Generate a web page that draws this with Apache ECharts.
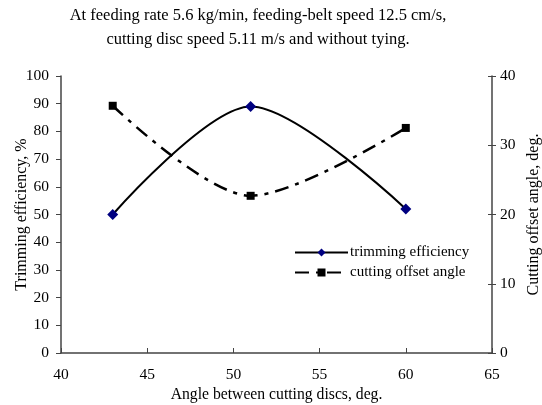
<!DOCTYPE html>
<html>
<head>
<meta charset="utf-8">
<script src="https://cdn.jsdelivr.net/npm/echarts@6/dist/echarts.min.js"></script>
<style>
  html, body { margin: 0; padding: 0; background: #fff; }
  #chart { width: 542px; height: 405px; }
</style>
</head>
<body>
<div id="chart"></div>
<script>
// Angle between cutting discs, deg.
var discAngles = [43, 51, 60];
// Trimming efficiency, % (left axis)
var trimmingEfficiency = [50, 89, 52];
// Cutting offset angle, deg. (right axis)
var cuttingOffsetAngle = [35.7, 22.7, 32.5];

var xTicks = { min: 40, max: 65, interval: 5 };
var leftTicks = { min: 0, max: 100, interval: 10 };
var rightTicks = { min: 0, max: 40, interval: 10 };

var serif = "'Liberation Serif', 'Times New Roman', serif";
var axisColor = '#444';

function pairs(xs, ys) {
  return xs.map(function (x, i) { return [x, ys[i]]; });
}

var chart = echarts.init(document.getElementById('chart'), null, { renderer: 'canvas' });

chart.setOption({
  animation: false,
  backgroundColor: '#fff',
  textStyle: { fontFamily: serif, color: '#000' },
  title: {
    text: 'At feeding rate 5.6 kg/min, feeding-belt speed 12.5 cm/s,\ncutting disc speed 5.11 m/s and without tying.',
    left: 253,
    textAlign: 'center',
    top: -1,
    textStyle: { fontFamily: serif, fontSize: 16.5, fontWeight: 'normal', color: '#000', lineHeight: 24 }
  },
  legend: {
    orient: 'vertical',
    left: 289,
    top: 240,
    itemWidth: 53,
    itemHeight: 10,
    itemGap: 5,
    textStyle: { fontFamily: serif, fontSize: 15, color: '#000', padding: [0, 0, 0, -3] },
    data: ['trimming efficiency', 'cutting offset angle']
  },
  grid: { left: 61, right: 50, top: 76, bottom: 52, outerBoundsMode: 'none', containLabel: false },
  xAxis: {
    type: 'value',
    min: xTicks.min, max: xTicks.max, interval: xTicks.interval,
    name: 'Angle between cutting discs, deg.',
    nameLocation: 'middle',
    nameGap: 34,
    nameMoveOverlap: false,
    nameTextStyle: { fontFamily: serif, fontSize: 15.7, color: '#000' },
    axisLine: { lineStyle: { color: axisColor, width: 1.5 } },
    axisTick: { inside: true, length: 5, lineStyle: { color: axisColor } },
    axisLabel: { fontFamily: serif, fontSize: 15.5, color: '#000', margin: 14 },
    splitLine: { show: false }
  },
  yAxis: [
    {
      type: 'value',
      position: 'left',
      min: leftTicks.min, max: leftTicks.max, interval: leftTicks.interval,
      name: 'Trimming efficiency, %',
      nameLocation: 'middle',
      nameGap: 31,
      nameRotate: 90,
      nameMoveOverlap: false,
      nameTextStyle: { fontFamily: serif, fontSize: 16, color: '#000' },
      axisLine: { show: true, lineStyle: { color: axisColor, width: 1.5 } },
      axisTick: { show: true, length: 5, lineStyle: { color: axisColor } },
      axisLabel: { fontFamily: serif, fontSize: 15.5, color: '#000', margin: 12 },
      splitLine: { show: false }
    },
    {
      type: 'value',
      position: 'right',
      min: rightTicks.min, max: rightTicks.max, interval: rightTicks.interval,
      name: 'Cutting offset angle, deg.',
      nameLocation: 'middle',
      nameGap: 34,
      nameRotate: 90,
      nameMoveOverlap: false,
      nameTextStyle: { fontFamily: serif, fontSize: 16, color: '#000' },
      axisLine: { show: true, lineStyle: { color: axisColor, width: 1.5 } },
      axisTick: { show: true, length: 4, lineStyle: { color: axisColor } },
      axisLabel: { fontFamily: serif, fontSize: 15.5, color: '#000', margin: 8 },
      splitLine: { show: false }
    },
    {
      // inner half of the crossing ticks on the right axis
      type: 'value',
      position: 'right',
      min: rightTicks.min, max: rightTicks.max, interval: rightTicks.interval,
      axisLine: { show: false },
      axisTick: { show: true, inside: true, length: 4, lineStyle: { color: axisColor } },
      axisLabel: { show: false },
      splitLine: { show: false }
    }
  ],
  series: [
    {
      name: 'trimming efficiency',
      type: 'line',
      yAxisIndex: 0,
      data: pairs(discAngles, trimmingEfficiency),
      smooth: 0.3,
      symbol: 'diamond',
      symbolSize: 11,
      itemStyle: { color: '#000080' },
      lineStyle: { color: '#000', width: 2 },
      z: 3
    },
    {
      name: 'cutting offset angle',
      type: 'line',
      yAxisIndex: 1,
      data: pairs(discAngles, cuttingOffsetAngle),
      smooth: 0.3,
      symbol: 'rect',
      symbolSize: 8,
      itemStyle: { color: '#000' },
      lineStyle: { color: '#000', width: 2.5, type: [14, 7, 4, 7] },
      z: 2
    }
  ]
});
</script>
</body>
</html>
